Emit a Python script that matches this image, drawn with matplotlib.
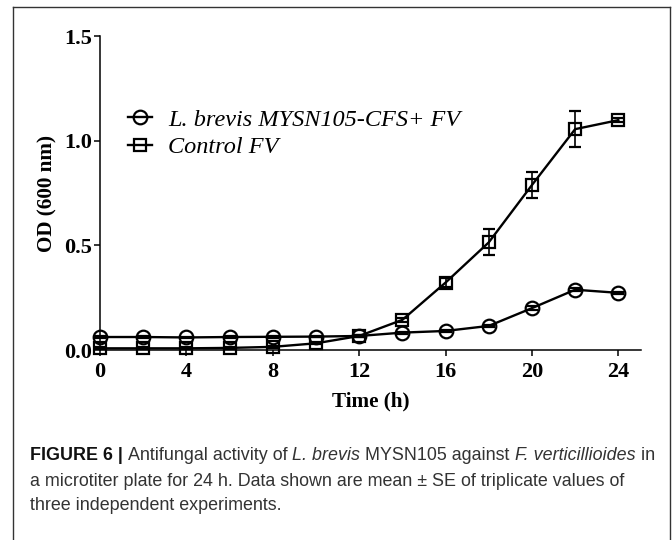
import matplotlib
matplotlib.use("Agg")
import matplotlib.pyplot as plt
from matplotlib.lines import Line2D

# ---- data ----
time_h = [0, 2, 4, 6, 8, 10, 12, 14, 16, 18, 20, 22, 24]
lb_cfs = [0.062, 0.062, 0.060, 0.062, 0.063, 0.064, 0.067, 0.083, 0.091, 0.115, 0.200, 0.288, 0.273]
lb_se = [0.004, 0.004, 0.004, 0.004, 0.004, 0.004, 0.004, 0.005, 0.005, 0.006, 0.008, 0.008, 0.006]
control = [0.008, 0.008, 0.008, 0.010, 0.015, 0.032, 0.067, 0.144, 0.322, 0.514, 0.788, 1.055, 1.098]
ctrl_se = [0.004, 0.004, 0.004, 0.004, 0.004, 0.005, 0.006, 0.010, 0.020, 0.062, 0.062, 0.085, 0.010]
x_ticks = [0, 4, 8, 12, 16, 20, 24]
y_ticks = [0.0, 0.5, 1.0, 1.5]
y_ticklabels = ["0.0", "0.5", "1.0", "1.5"]
label_lb = "L. brevis MYSN105-CFS+ FV"
label_ctrl = "Control FV"

W, H = 672, 540
fig = plt.figure(figsize=(W / 100, H / 100), dpi=100)
fig.patch.set_facecolor("white")

# axes placement (pixels: left 100, right 641, top 36, bottom 350)
ax = fig.add_axes([100 / W, 1 - 350 / H, (641 - 100) / W, (350 - 36) / H])
serif = "Liberation Serif"

common = dict(color="black", lw=1.7, markerfacecolor="none", markeredgecolor="black",
              markeredgewidth=1.6, ecolor="black", elinewidth=1.2, capsize=4.3,
              capthick=1.2, clip_on=False)
e1 = ax.errorbar(time_h, lb_cfs, yerr=lb_se, marker="o", markersize=9.8, zorder=3, **common)
e2 = ax.errorbar(time_h, control, yerr=ctrl_se, marker="s", markersize=9.0, zorder=4, **common)
for e in (e1, e2):
    for c in e[1]:
        c.set_clip_on(False)
    for b in e[2]:
        b.set_clip_on(False)

ax.set_xlim(0, 25.05)
ax.set_ylim(0, 1.5)
ax.set_xticks(x_ticks)
ax.set_yticks(y_ticks)
ax.set_yticklabels(y_ticklabels)
for sp in ("top", "right"):
    ax.spines[sp].set_visible(False)
for sp in ("left", "bottom"):
    ax.spines[sp].set_linewidth(1.1)
ax.tick_params(axis="both", length=4.5, width=1.1, labelsize=16)
ax.tick_params(axis="x", pad=4)
ax.tick_params(axis="y", pad=1)
for lab in ax.get_xticklabels() + ax.get_yticklabels():
    lab.set_fontfamily(serif)
    lab.set_fontweight("bold")
ax.set_xlabel("Time (h)", fontfamily=serif, fontweight="bold", fontsize=15.2, labelpad=7)
ax.set_ylabel("OD (600 nm)", fontfamily=serif, fontweight="bold", fontsize=15.2, labelpad=5)

h1 = Line2D([], [], color="black", lw=1.7, marker="o", markersize=9.8,
            markerfacecolor="none", markeredgewidth=1.6)
h2 = Line2D([], [], color="black", lw=1.7, marker="s", markersize=9.0,
            markerfacecolor="none", markeredgewidth=1.6)
ax.legend([h1, h2], [label_lb, label_ctrl], loc="upper left",
          bbox_to_anchor=((118 - 100) / 541, (350 - 99) / 314), frameon=False,
          prop=dict(family=serif, style="italic", size=17.5),
          handlelength=1.0, handletextpad=0.65, labelspacing=0.22, borderaxespad=0)

# outer frame (open at bottom)
frame_kw = dict(color="#333333", lw=1.0, transform=fig.transFigure)
fig.add_artist(Line2D([13 / W, 13 / W], [0, 1 - 7 / H], **frame_kw))
fig.add_artist(Line2D([670 / W, 670 / W], [0, 1 - 7 / H], **frame_kw))
fig.add_artist(Line2D([13 / W, 670 / W], [1 - 7 / H, 1 - 7 / H], **frame_kw))

# caption
sans = "Liberation Sans"
cap_size = 12.9
cap_color = "#333333"
caption_lines = [
    [("FIGURE 6 | ", "normal", "bold"), ("Antifungal activity of ", "normal", "normal"),
     ("L. brevis", "italic", "normal"), (" MYSN105 against ", "normal", "normal"),
     ("F. verticillioides", "italic", "normal"), (" in", "normal", "normal")],
    [("a microtiter plate for 24 h. Data shown are mean \u00b1 SE of triplicate values of", "normal", "normal")],
    [("three independent experiments.", "normal", "normal")],
]
line_y = [455, 481, 506]
renderer = fig.canvas.get_renderer()
for pieces, yy in zip(caption_lines, line_y):
    x = 30
    for txt, style, weight in pieces:
        t = fig.text(x / W, 1 - yy / H, txt, fontfamily=sans, fontsize=cap_size,
                     fontstyle=style, fontweight=weight, va="center", ha="left",
                     color="#111111" if weight == "bold" else cap_color)
        bb = t.get_window_extent(renderer)
        x += bb.width

fig.savefig("out.png", dpi=100, facecolor="white")
